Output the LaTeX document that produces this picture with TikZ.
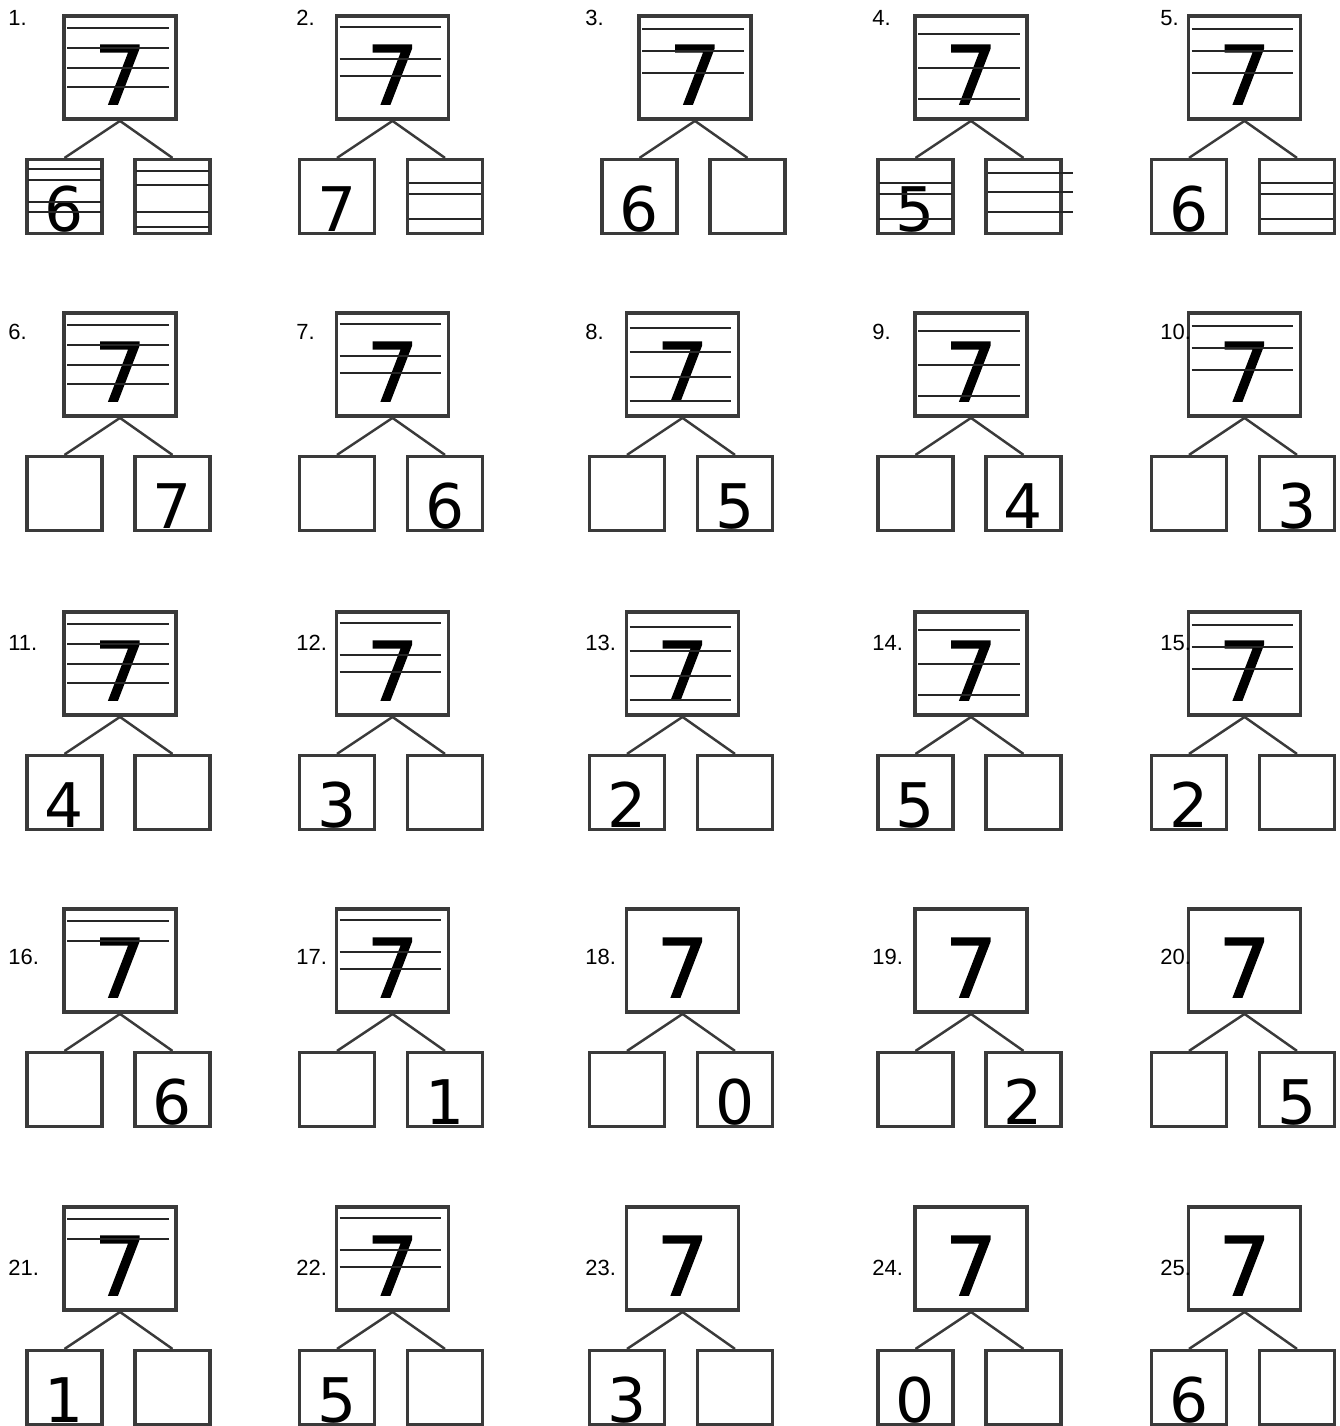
\documentclass[tikz,border=0pt]{standalone}
\usepackage{fontspec}
\newfontfamily\digitfont{DejaVu Sans}
\newfontfamily\wholefont[FakeBold=2]{DejaVu Sans}
\newfontfamily\labelfont{Liberation Sans}
\usetikzlibrary{positioning}
\definecolor{boxgray}{HTML}{3A3A3A}

\begin{document}
\begin{tikzpicture}[
  x=0.02cm, y=-0.02cm,
  whole/.style={draw=boxgray,line width=2.2pt,minimum width=2.24cm,minimum height=2.06cm,inner sep=0pt,text height=1.46cm,text depth=0pt,font=\wholefont\fontsize{46}{46}\selectfont},
  part/.style={draw=boxgray,line width=1.9pt,minimum width=1.5cm,minimum height=1.48cm,inner sep=0pt,text height=1.38cm,text depth=0pt,font=\digitfont\fontsize{35}{35}\selectfont},
  num/.style={anchor=west,inner sep=0pt,font=\labelfont\fontsize{12.5}{14}\selectfont},
  link/.style={draw=boxgray,line width=1.4pt},
  rule/.style={draw=black!85,line width=0.8pt}
]
\useasboundingbox (0,0) rectangle (1339,1426);
\foreach \n/\lx/\x/\y/\ly/\a/\b in {
  1/8/120/67.5/18/6/{}, 2/296/392.5/67.5/18/7/{}, 3/585/695/67.5/18/6/{}, 4/872/971/67.5/18/5/{}, 5/1160/1244.5/67.5/18/6/{},
  6/8/120/364.5/332/{}/7, 7/296/392.5/364.5/332/{}/6, 8/585/682.5/364.5/332/{}/5, 9/872/971/364.5/332/{}/4, 10/1160/1244.5/364.5/332/{}/3,
  11/8/120/663.5/643/4/{}, 12/296/392.5/663.5/643/3/{}, 13/585/682.5/663.5/643/2/{}, 14/872/971/663.5/643/5/{}, 15/1160/1244.5/663.5/643/2/{},
  16/8/120/960.5/957/{}/6, 17/296/392.5/960.5/957/{}/1, 18/585/682.5/960.5/957/{}/0, 19/872/971/960.5/957/{}/2, 20/1160/1244.5/960.5/957/{}/5,
  21/8/120/1258.5/1268/1/{}, 22/296/392.5/1258.5/1268/5/{}, 23/585/682.5/1258.5/1268/3/{}, 24/872/971/1258.5/1268/0/{}, 25/1160/1244.5/1258.5/1268/6/{}}{
  \node[whole] (t\n) at (\x,\y) {7};
  \node[part,below=0.74cm of t\n,xshift=-1.11cm] (l\n) {\a};
  \node[part,below=0.74cm of t\n,xshift=1.05cm] (r\n) {\b};
  \node[num] (n\n) at (\lx,\ly) {\n.};
  \draw[link] (t\n.south) -- (l\n.north);
  \draw[link] (t\n.south) -- (r\n.north);
}
\foreach \bx/\os in {t1/{14,34,54,73}, t6/{14,34,54,73}, t11/{14,34,54,73},
  t2/{13,45,62}, t7/{13,45,62}, t12/{13,45,62}, t17/{13,45,62}, t22/{13,45,62},
  t3/{15,37,59}, t5/{15,37,59}, t10/{15,37,59}, t15/{15,37,59},
  t4/{20,54,85}, t9/{20,54,85}, t14/{20,54,85},
  t8/{17,41,66,90}, t13/{17,41,66,90}, t16/{14,34}, t21/{14,34}}
  \foreach \o in \os
    \draw[rule] ([shift={(5,\o)}]\bx.north west) -- ([shift={(-9,\o)}]\bx.north east);
\foreach \bx/\os in {l1/{11,22,44,54}, r1/{13,27,54,69}, r2/{25,36,61}, l4/{25,36,61}, r5/{25,36,61}}
  \foreach \o in \os
    \draw[rule] ([shift={(3,\o)}]\bx.north west) -- ([shift={(-3,\o)}]\bx.north east);
\foreach \o in {15,34,54}
  \draw[rule] ([shift={(4,\o)}]r4.north west) -- ([shift={(10,\o)}]r4.north east);
\end{tikzpicture}
\end{document}
